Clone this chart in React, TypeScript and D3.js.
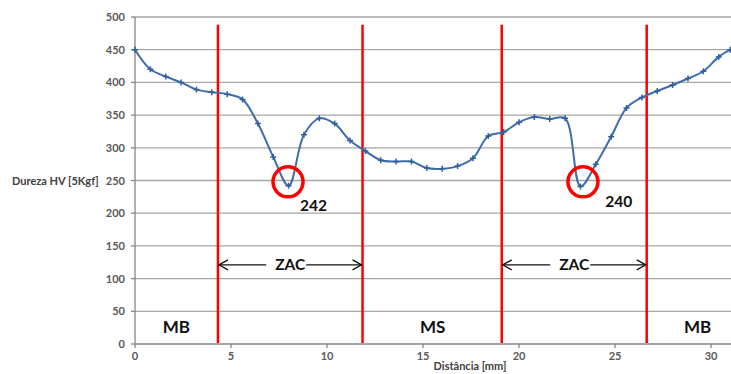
import React, { useEffect, useRef } from 'react';
import * as d3 from 'd3';

// distance along the weld [mm] and hardness HV [5Kgf]
const distance = [
  0, 0.8, 1.6, 2.4, 3.2, 4.0, 4.8, 5.6, 6.4, 7.2, 8.0, 8.8, 9.6, 10.4, 11.2, 12.0, 12.8, 13.6, 14.4, 15.2,
  16.0, 16.8, 17.6, 18.4, 19.2, 20.0, 20.8, 21.6, 22.4, 23.2, 24.0, 24.8, 25.6, 26.4, 27.2, 28.0, 28.8, 29.6, 30.4, 31.0,
];
const hardness = [
  450, 420, 409, 400, 389, 385, 382, 374, 337, 286, 242, 320, 345, 337, 311, 295, 281, 279, 279, 269,
  268, 272, 284, 318, 324, 339, 347, 344, 345, 241, 275, 317, 361, 377, 387, 396, 406, 417, 439, 450,
];

const yTicks = [0, 50, 100, 150, 200, 250, 300, 350, 400, 450, 500];
const xTicks = [0, 5, 10, 15, 20, 25, 30];

// zone boundaries (red lines)
const boundaries = [4.32, 11.85, 19.1, 26.65];
const zones = [
  { label: 'MB', x: 2.15 },
  { label: 'MS', x: 15.5 },
  { label: 'MB', x: 29.3 },
];
const zacSpans = [
  [4.32, 11.85],
  [19.1, 26.65],
];
const minima = [
  { label: '242', x: 7.97, y: 248, tx: 9.3, ty: 204 },
  { label: '240', x: 23.33, y: 248, tx: 25.2, ty: 210 },
];

const FONT = 'Lato, "Open Sans", sans-serif';

const App = () => {
  const ref = useRef<SVGSVGElement | null>(null);

  useEffect(() => {
    const svg = d3.select(ref.current);
    svg.selectAll('*').remove();

    const left = 135;
    const right = 731;
    const top = 17;
    const bottom = 344;

    const x = d3.scaleLinear().domain([0, 31.04]).range([left, right]);
    const y = d3.scaleLinear().domain([0, 500]).range([bottom, top]);

    // gridlines
    svg
      .append('g')
      .selectAll('line')
      .data(yTicks.slice(1))
      .enter()
      .append('line')
      .attr('x1', left)
      .attr('x2', right)
      .attr('y1', (d) => y(d))
      .attr('y2', (d) => y(d))
      .attr('stroke', '#a6a6a6')
      .attr('stroke-width', 1.3);

    // axes
    svg.append('line').attr('x1', left).attr('x2', left).attr('y1', top).attr('y2', bottom)
      .attr('stroke', '#868686').attr('stroke-width', 1.3);
    svg.append('line').attr('x1', left).attr('x2', right).attr('y1', bottom).attr('y2', bottom)
      .attr('stroke', '#868686').attr('stroke-width', 1.3);

    svg.append('g').selectAll('line').data(yTicks).enter().append('line')
      .attr('x1', left - 4).attr('x2', left).attr('y1', (d) => y(d)).attr('y2', (d) => y(d))
      .attr('stroke', '#868686').attr('stroke-width', 1.3);
    svg.append('g').selectAll('line').data(xTicks).enter().append('line')
      .attr('x1', (d) => x(d)).attr('x2', (d) => x(d)).attr('y1', bottom).attr('y2', bottom + 4)
      .attr('stroke', '#868686').attr('stroke-width', 1.3);

    svg.append('g').selectAll('text').data(yTicks).enter().append('text')
      .attr('x', left - 10).attr('y', (d) => y(d) + 4)
      .attr('text-anchor', 'end')
      .attr('font-family', FONT).attr('font-size', 11).attr('font-weight', 'bold')
      .attr('fill', '#595959')
      .text((d) => d);
    svg.append('g').selectAll('text').data(xTicks).enter().append('text')
      .attr('x', (d) => x(d)).attr('y', bottom + 16)
      .attr('text-anchor', 'middle')
      .attr('font-family', FONT).attr('font-size', 11).attr('font-weight', 'bold')
      .attr('fill', '#595959')
      .text((d) => d);

    svg.append('text').attr('x', 12).attr('y', y(250) + 4)
      .attr('font-family', FONT).attr('font-size', 11).attr('font-weight', 'bold')
      .attr('fill', '#404040').text('Dureza HV [5Kgf]');
    svg.append('text').attr('x', 470).attr('y', 370)
      .attr('text-anchor', 'middle')
      .attr('font-family', FONT).attr('font-size', 11).attr('font-weight', 'bold')
      .attr('fill', '#404040').text('Distância [mm]');

    // red boundaries
    svg.append('g').selectAll('line').data(boundaries).enter().append('line')
      .attr('x1', (d) => x(d)).attr('x2', (d) => x(d)).attr('y1', y(488)).attr('y2', bottom - 1)
      .attr('stroke', '#ff0000').attr('stroke-width', 2.5);

    // zone labels
    svg.append('g').selectAll('text').data(zones).enter().append('text')
      .attr('x', (d) => x(d.x)).attr('y', y(17))
      .attr('text-anchor', 'middle')
      .attr('font-family', FONT).attr('font-size', 17).attr('font-weight', 'bold')
      .attr('fill', '#111').text((d) => d.label);

    // ZAC arrows
    const arrowY = y(121);
    zacSpans.forEach(([a, b]) => {
      const x0 = x(a) + 1;
      const x1 = x(b) - 1;
      const mid = (x0 + x1) / 2;
      const g = svg.append('g').attr('stroke', '#111').attr('stroke-width', 1.3).attr('fill', 'none');
      g.append('line').attr('x1', x0).attr('x2', mid - 24).attr('y1', arrowY).attr('y2', arrowY);
      g.append('line').attr('x1', mid + 16).attr('x2', x1).attr('y1', arrowY).attr('y2', arrowY);
      g.append('path').attr('d', `M${x0 + 9},${arrowY - 5}L${x0},${arrowY}L${x0 + 9},${arrowY + 5}`);
      g.append('path').attr('d', `M${x1 - 9},${arrowY - 5}L${x1},${arrowY}L${x1 - 9},${arrowY + 5}`);
      svg.append('text').attr('x', mid).attr('y', arrowY + 5)
        .attr('text-anchor', 'middle')
        .attr('font-family', FONT).attr('font-size', 15.5).attr('font-weight', 'bold')
        .attr('fill', '#111').text('ZAC');
    });

    // hardness curve
    const points = distance.map((d, i) => [d, hardness[i]] as [number, number]);
    const line = d3
      .line<[number, number]>()
      .x((d) => x(d[0]))
      .y((d) => y(d[1]))
      .curve(d3.curveCatmullRom.alpha(0.5));

    const clip = svg.append('clipPath').attr('id', 'plotclip');
    clip.append('rect').attr('x', left - 5).attr('y', 0).attr('width', right - left + 5).attr('height', bottom);

    const plot = svg.append('g').attr('clip-path', 'url(#plotclip)');
    plot.append('path').datum(points).attr('d', line)
      .attr('fill', 'none').attr('stroke', '#3e6ea8').attr('stroke-width', 2);

    plot.selectAll('.mark').data(points).enter().append('path')
      .attr('class', 'mark')
      .attr('d', (d) => `M${x(d[0]) - 3},${y(d[1])}h6M${x(d[0])},${y(d[1]) - 3}v6`)
      .attr('stroke', '#2f5f9e').attr('stroke-width', 1.5);

    // minima highlight
    svg.append('g').selectAll('circle').data(minima).enter().append('circle')
      .attr('cx', (d) => x(d.x)).attr('cy', (d) => y(d.y)).attr('r', 15)
      .attr('fill', 'none').attr('stroke', '#ff0000').attr('stroke-width', 3.5);
    svg.append('g').selectAll('text').data(minima).enter().append('text')
      .attr('x', (d) => x(d.tx)).attr('y', (d) => y(d.ty))
      .attr('text-anchor', 'middle')
      .attr('font-family', FONT).attr('font-size', 15.5).attr('font-weight', 'bold')
      .attr('fill', '#111').text((d) => d.label);
  }, []);

  return (
    <svg
      ref={ref}
      width={731}
      height={374}
      style={{ position: 'absolute', left: 0, top: 0, background: '#fff' }}
    />
  );
};

export default App;
